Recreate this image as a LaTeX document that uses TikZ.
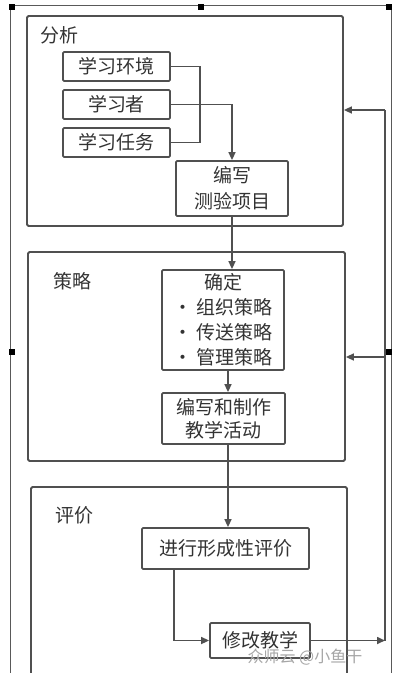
\documentclass[tikz,border=0pt]{standalone}
\usepackage{fontspec}
\newfontfamily\cjk{Noto Sans CJK SC}
\usetikzlibrary{arrows.meta,calc}
\definecolor{ln}{HTML}{505050}
\definecolor{tx}{HTML}{333333}
\tikzset{
  grp/.style={draw=ln,line width=1.8pt,rounded corners=1.5pt,inner sep=0pt},
  bx/.style={draw=ln,line width=1.8pt,rounded corners=1.2pt,inner sep=0pt,align=center,text=tx,
    font=\cjk\fontsize{19}{25}\selectfont},
  lbl/.style={text=tx,inner sep=0pt,font=\cjk\fontsize{19}{25}\selectfont},
  con/.style={draw=ln,line width=1.6pt},
  arr/.style={con,-{Triangle[length=8pt,width=7pt]}},
  handle/.style={fill=black,draw=none,minimum size=6pt,inner sep=0pt}
}
\begin{document}
\begin{tikzpicture}[x=1pt,y=-1pt]
\useasboundingbox (0,0) rectangle (401,673);
\fill[white] (0,0) rectangle (401,673);
\clip (0,0) rectangle (401,673);
% outer frame
\draw[black!65,line width=0.9pt] (10,5) -- (391,5) (10,5) -- (10,690) (391,5) -- (391,690);
\node[handle] (h1) at (12,7) {};
\node[handle] (h2) at (201,7) {};
\node[handle] (h3) at (389,7) {};
\node[handle] (h4) at (12,352) {};
\node[handle] (h5) at (389,352) {};
% groups
\node[grp,minimum width=316pt,minimum height=210pt] (g1) at (185,121) {};
\node[grp,minimum width=317pt,minimum height=209pt] (g2) at (186.5,356.5) {};
\node[grp,minimum width=316pt,minimum height=210pt] (g3) at (189,592) {};
\node[lbl] (l1) at (60,35) {分析};
\node[lbl] (l2) at (72,281) {策略};
\node[lbl] (l3) at (75,515) {评价};
% boxes
\node[bx,minimum width=107pt,minimum height=29pt] (env) at (116.5,66.5) {学习环境};
\node[bx,minimum width=107pt,minimum height=29pt] (lrn) at (116.5,104.5) {学习者};
\node[bx,minimum width=107pt,minimum height=29pt] (task) at (116.5,142.5) {学习任务};
\node[bx,minimum width=112pt,minimum height=55pt,font=\cjk\fontsize{19}{26}\selectfont] (test) at (232,188.5) {编写\\测验项目};
\node[bx,minimum width=122pt,minimum height=100pt] (det) at (223,320) {确定\\• 组织策略\\• 传送策略\\• 管理策略};
\node[bx,minimum width=123pt,minimum height=51pt,font=\cjk\fontsize{19}{23}\selectfont] (make) at (223.5,418.5) {编写和制作\\教学活动};
\node[bx,minimum width=167pt,minimum height=41pt] (eval) at (225.5,548.5) {进行形成性评价};
\node[bx,minimum width=100pt,minimum height=35pt] (fix) at (260,640.5) {修改教学};
% watermark
\node[text=black!35,inner sep=0pt,font=\cjk\fontsize{16}{18}\selectfont] (wm) at (305,657) {众师云 @小鱼干};
% connectors
\coordinate (bk) at (200,0);
\coordinate (ax) at (228,0);
\coordinate (ex) at (174,0);
\coordinate (fbtop) at (385,110);
\coordinate (fbmid) at (385,357);
\coordinate (fbbot) at (385,640.5);
\draw[con] (env.east) -| (bk |- task.east) -- (task.east);
\draw[arr] (lrn.east) -| (test.north);
\draw[arr] (test.south) -- (test.south |- det.north);
\draw[arr] (det.south -| ax) -- (make.north -| ax);
\draw[arr] (make.south -| ax) -- (eval.north -| ax);
\draw[arr] (eval.south -| ex) |- (fix.west);
\draw[arr] (fix.east) -- (fbbot);
\draw[con] (fbbot) -- (fbtop);
\draw[arr] (fbtop) -- (g1.east |- fbtop);
\draw[arr] (fbmid) -- (g2.east |- fbmid);
\end{tikzpicture}
\end{document}
